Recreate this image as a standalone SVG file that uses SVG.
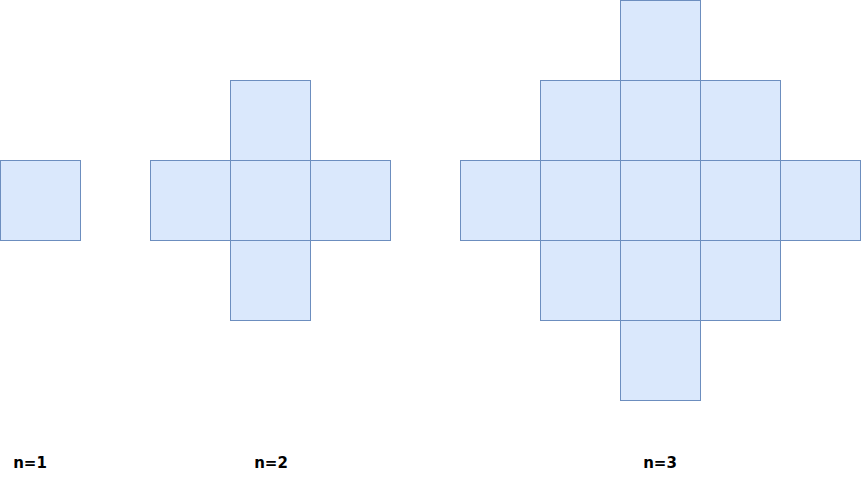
<svg xmlns="http://www.w3.org/2000/svg" width="861" height="481" viewBox="0 0 861 481">
<style>
.c{fill:#dae8fc;stroke:#6c8ebf;stroke-width:1}
.t{font-family:"DejaVu Sans",sans-serif;font-size:15px;font-weight:bold;fill:#000;text-anchor:middle}
</style>
<rect width="861" height="481" fill="#fff"/>
<g id="n1">
<rect class="c" x="0.5" y="160.5" width="80" height="80"/>
</g>
<g id="n2">
<rect class="c" x="230.5" y="80.5" width="80" height="80"/>
<rect class="c" x="150.5" y="160.5" width="80" height="80"/>
<rect class="c" x="230.5" y="160.5" width="80" height="80"/>
<rect class="c" x="310.5" y="160.5" width="80" height="80"/>
<rect class="c" x="230.5" y="240.5" width="80" height="80"/>
</g>
<g id="n3">
<rect class="c" x="620.5" y="0.5" width="80" height="80"/>
<rect class="c" x="540.5" y="80.5" width="80" height="80"/>
<rect class="c" x="620.5" y="80.5" width="80" height="80"/>
<rect class="c" x="700.5" y="80.5" width="80" height="80"/>
<rect class="c" x="460.5" y="160.5" width="80" height="80"/>
<rect class="c" x="540.5" y="160.5" width="80" height="80"/>
<rect class="c" x="620.5" y="160.5" width="80" height="80"/>
<rect class="c" x="700.5" y="160.5" width="80" height="80"/>
<rect class="c" x="780.5" y="160.5" width="80" height="80"/>
<rect class="c" x="540.5" y="240.5" width="80" height="80"/>
<rect class="c" x="620.5" y="240.5" width="80" height="80"/>
<rect class="c" x="700.5" y="240.5" width="80" height="80"/>
<rect class="c" x="620.5" y="320.5" width="80" height="80"/>
</g>
<g id="labels">
<text class="t" x="30" y="468">n=1</text>
<text class="t" x="271" y="468">n=2</text>
<text class="t" x="660" y="468">n=3</text>
</g>
</svg>
